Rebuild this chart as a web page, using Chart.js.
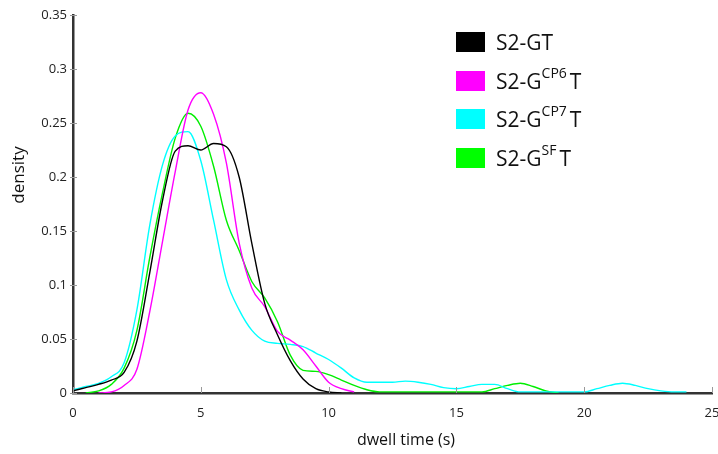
<!DOCTYPE html>
<html>
<head>
<meta charset="utf-8">
<script src="https://cdn.jsdelivr.net/npm/chart.js@4"></script>
<style>
  html, body { margin: 0; padding: 0; background: #fff; }
  #wrap { position: relative; width: 718px; height: 454px; }
  #legend { position: absolute; left: 456px; top: 32px; font-family: "Open Sans", sans-serif; font-size: 21px; color: #111; }
  .row { position: relative; height: 38.5px; }
  .box { position: absolute; left: 0; top: 0; width: 29px; height: 20px; }
  .lab { position: absolute; left: 40px; top: -4px; line-height: 28px; white-space: nowrap; }
  .lab sup { font-size: 14px; position: relative; top: -3px; vertical-align: super; line-height: 0; margin-right: 3px; }
</style>
</head>
<body>
<div id="wrap">
  <canvas id="densityChart" width="718" height="454"></canvas>
  <div id="legend"></div>
</div>
<script>
// dwell time grid (s)
const times = [0, 0.5, 1, 1.5, 2, 2.5, 3, 3.5, 4, 4.5, 5, 5.5, 6, 6.5, 7, 7.5, 8, 8.5, 9, 9.5,
               10, 10.5, 11, 11.5, 12, 12.5, 13, 13.5, 14, 14.5, 15, 15.5, 16, 16.5, 17, 17.5, 18, 18.5, 19, 19.5,
               20, 20.5, 21, 21.5, 22, 22.5, 23, 23.5, 24];

const s2GT = [0.002, 0.005, 0.008, 0.012, 0.019, 0.048, 0.111, 0.178, 0.224, 0.229, 0.225, 0.231, 0.228, 0.2, 0.138, 0.083, 0.054, 0.03, 0.013, 0.004,
              0.001, 0];

const s2CP6 = [null, null, 0, 0.001, 0.007, 0.022, 0.075, 0.14, 0.205, 0.262, 0.278, 0.258, 0.213, 0.139, 0.097, 0.08, 0.057, 0.049, 0.04, 0.025,
               0.01, 0.004, 0.001];

const s2CP7 = [0.003, 0.006, 0.009, 0.015, 0.028, 0.077, 0.155, 0.211, 0.238, 0.242, 0.215, 0.16, 0.105, 0.077, 0.058, 0.048, 0.046, 0.045, 0.043, 0.037,
               0.031, 0.023, 0.014, 0.01, 0.01, 0.01, 0.011, 0.01, 0.008, 0.005, 0.004, 0.006, 0.008, 0.008, 0.004, 0.001, 0.001, 0.001, 0.001, 0.001,
               0.001, 0.004, 0.007, 0.009, 0.007, 0.004, 0.002, 0.001, 0.001];

const s2SF = [null, 0, 0.002, 0.008, 0.023, 0.058, 0.125, 0.185, 0.236, 0.259, 0.247, 0.21, 0.16, 0.132, 0.103, 0.088, 0.066, 0.035, 0.021, 0.02,
              0.017, 0.012, 0.007, 0.003, 0.001, 0.001, 0.001, 0.001, 0.001, 0.001, 0.001, 0.001, 0.001, 0.004, 0.007, 0.009, 0.006, 0.002, 0];

const seriesNames = ['S2-GT', 'S2-G<sup>CP6</sup>T', 'S2-G<sup>CP7</sup>T', 'S2-G<sup>SF</sup>T'];
const seriesColors = ['#000000', '#ff00ff', '#00ffff', '#00ee00'];
const legendColors = ['#000000', '#ff00ff', '#00ffff', '#00ff00'];
const seriesData = [s2GT, s2CP6, s2CP7, s2SF];

const xTicks = [0, 5, 10, 15, 20, 25];

const toPoints = arr => times.map((t, i) => ({ x: t, y: arr[i] === undefined ? null : arr[i] }));

// inner tick marks + offset axis titles, like the original figure
const decorPlugin = {
    id: 'decor',
    afterDraw(chart) {
        const { ctx, chartArea, scales } = chart;
        ctx.save();
        ctx.strokeStyle = '#999';
        ctx.lineWidth = 1;
        scales.x.ticks.forEach(t => {
            const px = Math.round(scales.x.getPixelForValue(t.value)) + 0.5;
            ctx.beginPath();
            ctx.moveTo(px, chartArea.bottom);
            ctx.lineTo(px, chartArea.bottom - 6);
            ctx.stroke();
        });
        scales.y.ticks.forEach(t => {
            const py = Math.round(scales.y.getPixelForValue(t.value)) + 0.5;
            ctx.beginPath();
            ctx.moveTo(chartArea.left - 3, py);
            ctx.lineTo(chartArea.left + 4, py);
            ctx.stroke();
        });
        ctx.fillStyle = '#111';
        ctx.font = '16px "Open Sans", sans-serif';
        ctx.textAlign = 'center';
        ctx.textBaseline = 'middle';
        ctx.fillText('dwell time (s)', 406, 440);
        ctx.translate(19, 175);
        ctx.rotate(-Math.PI / 2);
        ctx.font = '17px "Open Sans", sans-serif';
        ctx.fillText('density', 0, 0);
        ctx.restore();
    }
};

new Chart(document.getElementById('densityChart'), {
    type: 'line',
    data: {
        datasets: seriesData.map((arr, i) => ({
            label: seriesNames[i].replace(/<\/?sup>/g, ''),
            data: toPoints(arr),
            borderColor: seriesColors[i],
            backgroundColor: seriesColors[i],
            borderWidth: 1.4,
            pointRadius: 0,
            cubicInterpolationMode: 'monotone',
            spanGaps: false,
            fill: false
        }))
    },
    options: {
        responsive: false,
        animation: false,
        layout: { padding: { top: 15, right: 6, left: 0, bottom: 0 } },
        plugins: {
            legend: { display: false },
            tooltip: { enabled: false }
        },
        scales: {
            x: {
                type: 'linear',
                min: 0,
                max: 25,
                afterBuildTicks: scale => { scale.ticks = xTicks.map(v => ({ value: v })); },
                afterFit: scale => { scale.height = 61; scale.paddingLeft = 0; scale.paddingRight = 0; },
                grid: { display: false, drawTicks: false },
                border: { display: true, color: '#333', width: 2.5 },
                ticks: {
                    color: '#222',
                    padding: 12,
                    maxRotation: 0,
                    font: { family: '"Open Sans", sans-serif', size: 13 }
                }
            },
            y: {
                min: 0,
                max: 0.35,
                afterFit: scale => { scale.width = 73; },
                grid: { display: false, drawTicks: false },
                border: { display: true, color: '#333', width: 2.5 },
                ticks: {
                    stepSize: 0.05,
                    color: '#222',
                    padding: 6,
                    font: { family: '"Open Sans", sans-serif', size: 13 },
                    callback: v => String(+v.toFixed(2))
                }
            }
        }
    },
    plugins: [decorPlugin]
});

const legendEl = document.getElementById('legend');
seriesNames.forEach((name, i) => {
    const row = document.createElement('div');
    row.className = 'row';
    row.innerHTML = '<span class="box" style="background:' + legendColors[i] + '"></span><span class="lab">' + name + '</span>';
    legendEl.appendChild(row);
});
</script>
</body>
</html>
